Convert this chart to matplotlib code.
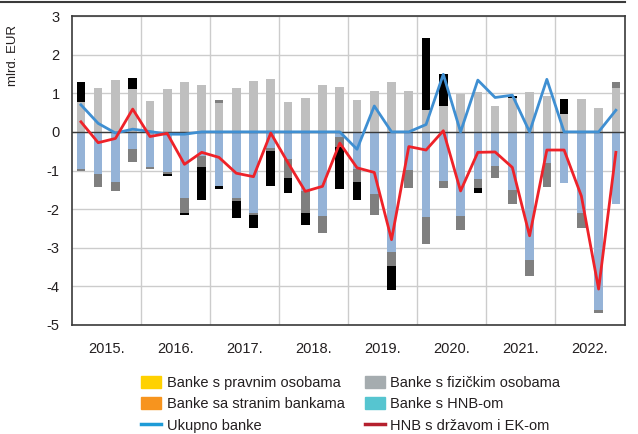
import matplotlib
matplotlib.use("Agg")
import matplotlib.pyplot as plt
import numpy as np
from matplotlib.patches import Patch
from matplotlib.lines import Line2D

# Quarterly data, 2015 Q1 - 2022 Q4 (billion EUR)
years = ["2015.", "2016.", "2017.", "2018.", "2019.", "2020.", "2021.", "2022."]

banke_pravne = [-0.97, -1.09, -1.31, -0.44, -0.91, -1.03, -1.70, -0.62,
                -1.40, -1.71, -2.10, -0.42, -0.71, -1.54, -2.17, -0.12,
                -0.97, -1.61, -3.10, -0.98, -2.20, -1.27, -2.18, -1.23,
                -0.88, -1.50, -3.31, -0.80, -1.33, -2.09, -4.62, -1.87]
banke_fizicke = [0.78, 1.13, 1.34, 1.12, 0.80, 1.11, 1.30, 1.22,
                 0.74, 1.13, 1.32, 1.36, 0.78, 0.87, 1.21, 1.17,
                 0.82, 1.07, 1.29, 1.07, 0.56, 0.66, 0.99, 1.02,
                 0.66, 0.87, 1.03, 0.93, 0.45, 0.84, 0.63, 1.14]
banke_strane = [-0.04, -0.33, -0.22, -0.35, -0.04, -0.05, -0.40, -0.30,
                0.08, -0.08, -0.05, -0.08, -0.49, -0.56, -0.44, -0.27,
                -0.34, -0.54, -0.37, -0.48, -0.71, -0.19, -0.35, -0.23,
                -0.31, -0.37, -0.41, -0.63, 0.00, -0.40, -0.08, 0.15]
banke_hnb = [0.50, 0.00, 0.00, 0.27, 0.00, -0.07, -0.06, -0.85,
             -0.09, -0.43, -0.33, -0.90, -0.39, -0.32, 0.00, -1.08,
             -0.45, 0.00, -0.62, 0.00, 1.88, 0.83, 0.00, -0.12,
             0.00, 0.07, 0.00, 0.00, 0.39, 0.00, 0.00, 0.00]
ukupno_banke = [0.70, 0.22, -0.03, 0.07, 0.01, -0.06, -0.06, 0.00,
                0.00, 0.00, 0.00, 0.00, 0.00, 0.00, 0.00, 0.00,
                -0.45, 0.67, 0.00, 0.00, 0.19, 1.49, 0.00, 1.34,
                0.89, 0.95, 0.00, 1.36, 0.00, 0.00, 0.00, 0.56]
hnb_drzava_ek = [0.26, -0.28, -0.17, 0.59, -0.12, -0.04, -0.84, -0.53,
                 -0.66, -1.07, -1.16, -0.03, -0.80, -1.54, -1.41, -0.29,
                 -0.93, -1.05, -2.79, -0.38, -0.47, 0.03, -1.53, -0.53,
                 -0.52, -0.92, -2.69, -0.47, -0.47, -1.66, -4.07, -0.53]

plt.rcParams['font.family'] = ['Liberation Sans', 'DejaVu Sans']
text_color = '#231F20'

fig = plt.figure(figsize=(6.38, 4.34), dpi=100)
ax = fig.add_axes([72.3 / 638, 1 - 325 / 434, (624.5 - 72.3) / 638, (325 - 16) / 434])

n = len(banke_pravne)
x = np.arange(n)
pos_base = np.zeros(n)
neg_base = np.zeros(n)
series = [(banke_pravne, '#95B3D7'), (banke_fizicke, '#BFBFBF'),
          (banke_strane, '#7F7F7F'), (banke_hnb, '#000000')]
for vals, color in series:
    v = np.asarray(vals, dtype=float)
    base = np.where(v >= 0, pos_base, neg_base)
    ax.bar(x, v, 0.5, bottom=base, color=color, zorder=2, linewidth=0)
    pos_base += np.clip(v, 0, None)
    neg_base += np.clip(v, None, 0)

ax.axhline(0, color='#3A3A3A', lw=1.0, zorder=2.5)
ax.plot(x, ukupno_banke, color='#3F8FD2', lw=2, zorder=3)
ax.plot(x, hnb_drzava_ek, color='#EE2229', lw=2, zorder=4)

ax.set_xlim(-0.5, n - 0.5)
ax.set_ylim(-5, 3)
ax.set_yticks(range(-5, 4))
ax.set_yticklabels([str(v) for v in range(-5, 4)])
ax.set_xticks(np.arange(1.5, n, 4))
ax.set_xticklabels(years)
ax.set_xticks(np.arange(3.5, n - 1, 4), minor=True)
ax.tick_params(axis='both', which='both', length=0, labelsize=10.5, colors=text_color)
ax.tick_params(axis='x', pad=12)
ax.tick_params(axis='y', pad=9)
ax.grid(axis='y', which='major', color='#CCCCCC', lw=1.0, zorder=0)
ax.grid(axis='x', which='minor', color='#CCCCCC', lw=1.0, zorder=0)
ax.set_axisbelow(True)
for sp in ax.spines.values():
    sp.set_color('#3A3A3A')
    sp.set_linewidth(1.2)

fig.text(13 / 638, 1 - 55 / 434, 'mlrd. EUR', rotation=90, ha='center', va='center',
         fontsize=9.5, color=text_color)

# rule along the top of the figure
fig.add_artist(Line2D([0, 624.5 / 638], [1 - 1.5 / 434] * 2, color='#3A3A3A', lw=1.5))

handles = [Patch(color='#FFD100'), Patch(color='#F7941E'),
           Line2D([], [], color='#1E9BD7', lw=2.5),
           Patch(color='#A5ACAF'), Patch(color='#56C5D0'),
           Line2D([], [], color='#B5202E', lw=2.5)]
labels = ['Banke s pravnim osobama', 'Banke sa stranim bankama', 'Ukupno banke',
          'Banke s fizičkim osobama', 'Banke s HNB-om', 'HNB s državom i EK-om']
fig.legend(handles, labels, ncol=2, loc='upper left',
           bbox_to_anchor=(141 / 638, 1 - 376 / 434), frameon=False,
           fontsize=10.5, handlelength=1.4, handleheight=0.85, handletextpad=0.35,
           columnspacing=1.4, labelspacing=0.5, borderaxespad=0, borderpad=0,
           labelcolor=text_color)

fig.savefig('out.png', dpi=100)
